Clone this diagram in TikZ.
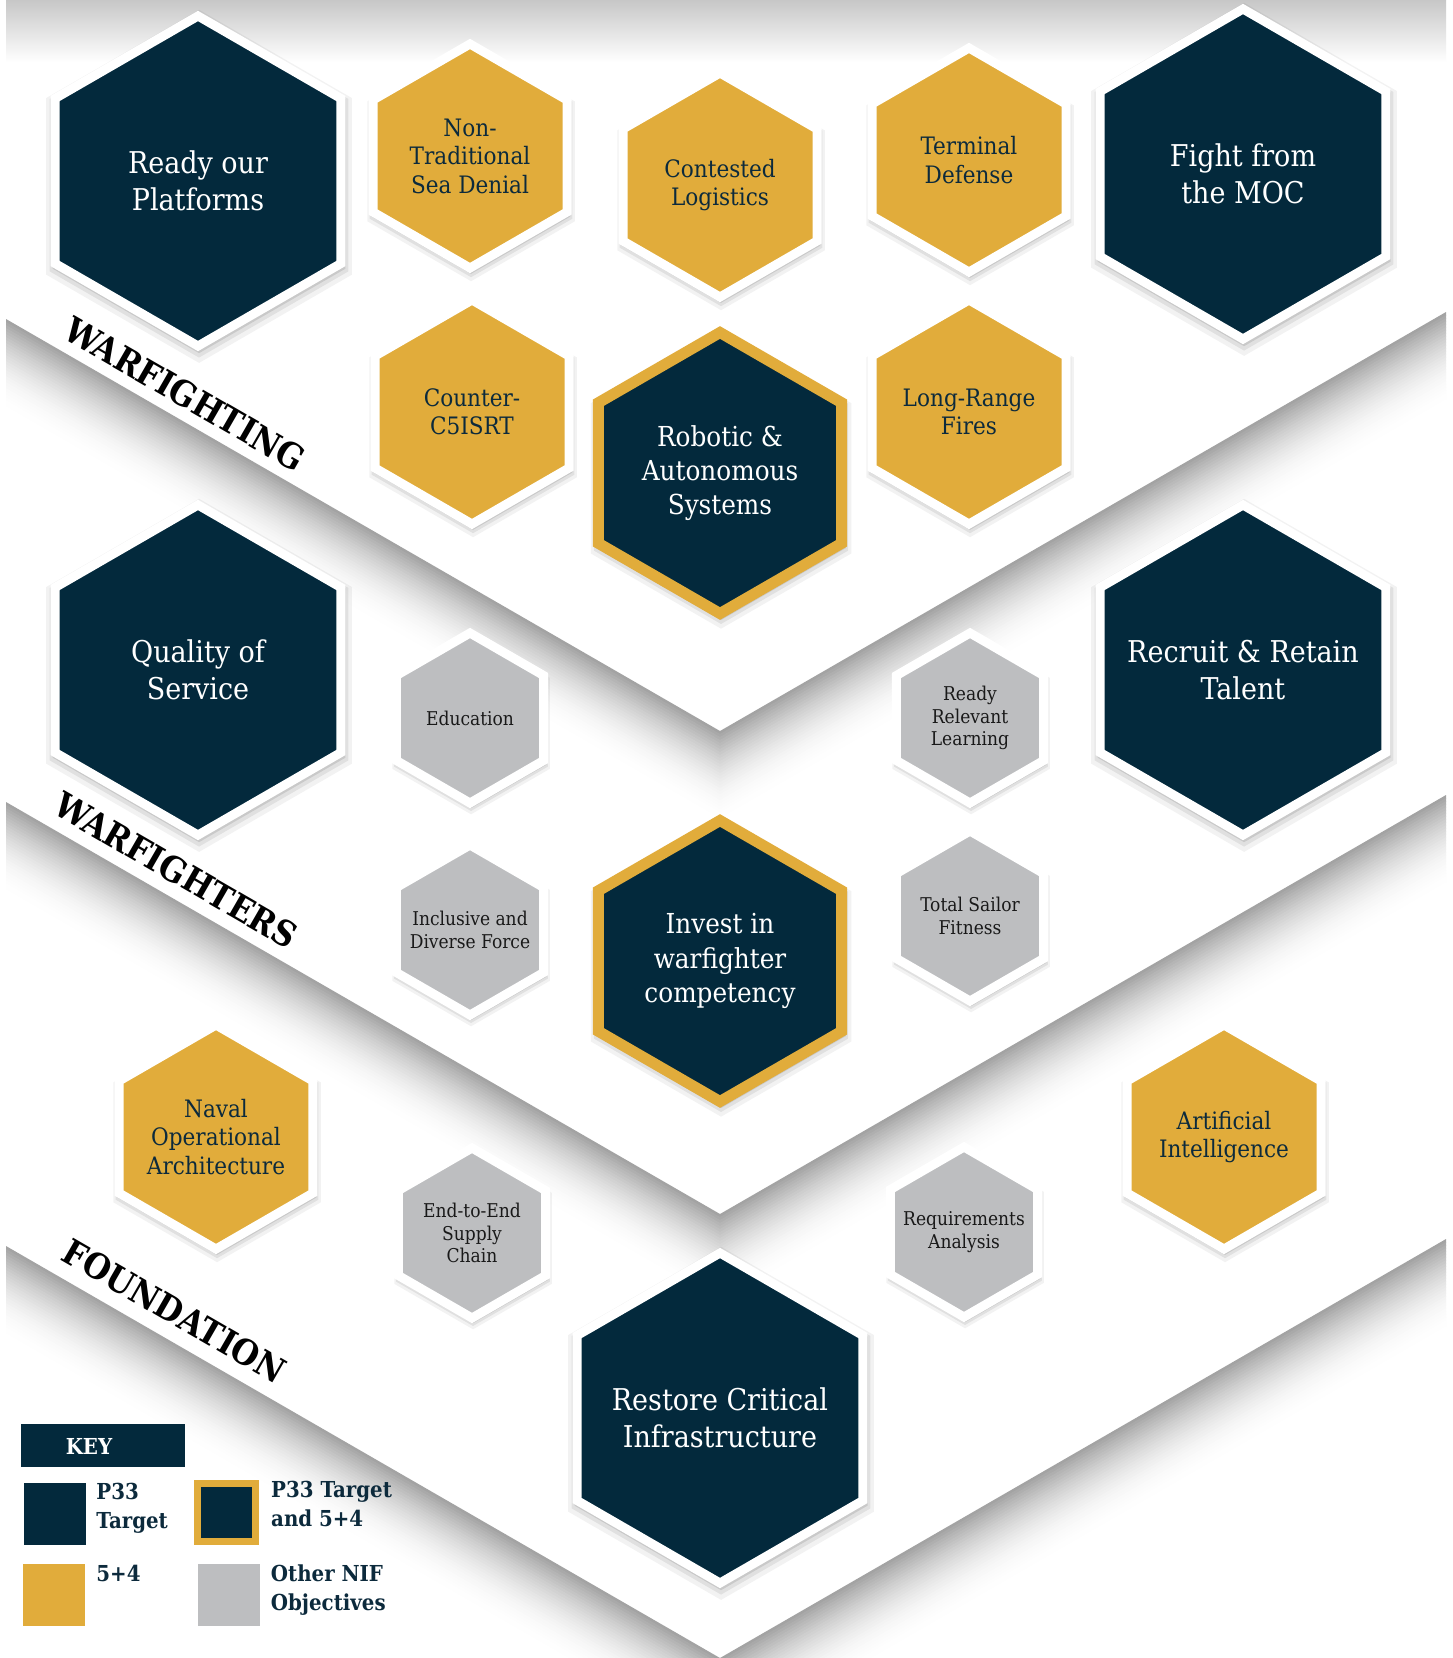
\documentclass[tikz,border=0pt]{standalone}
\usepackage{fontspec}
\newfontfamily\slabfont{DejaVu Serif Condensed}
\usepackage{tikz}
\usetikzlibrary{
    positioning,
    shadows,
    shapes.geometric
}
\definecolor{navy}{HTML}{03293C}
\definecolor{gold}{HTML}{E1AC3B}
\definecolor{hexgray}{HTML}{BDBEC0}
\definecolor{inknavy}{HTML}{0C2A3C}
% hexagon with its text on top: style, name, position, text
\newcommand{\hexagon}[4]{%
    \node[#1] (#2) at #3 {};
    \node[#1 text] (#2-text) at (#2) {#4};
}
\tikzset{
    every picture/.style = {
        x = 1pt,
        y = -1pt
    },
    hex shadow/.style = {
        general shadow = {fill = black, opacity = .05, shadow xshift = 1pt, shadow yshift = -5pt, shadow scale = 1.07},
        general shadow = {fill = black, opacity = .07, shadow xshift = 1pt, shadow yshift = -4pt, shadow scale = 1.045},
        general shadow = {fill = black, opacity = .10, shadow xshift = 1pt, shadow yshift = -3pt, shadow scale = 1.025}
    },
    hex/.style = {
        regular polygon,
        regular polygon sides = 6,
        shape border rotate = 30,
        inner sep = 0pt,
        outer sep = 0pt,
        line join = miter,
        draw = white,
        line width = 9pt,
        hex shadow
    },
    hex text/.style = {
        inner sep = 0pt,
        align = center
    },
    target/.style = {hex, minimum size = 330pt, fill = navy},
    target text/.style = {hex text, text = white, font = {\slabfont\fontsize{30}{36.5}\selectfont}},
    both/.style = {hex, minimum size = 281pt, fill = navy, draw = gold, line width = 11pt},
    both text/.style = {hex text, text = white, font = {\slabfont\fontsize{27.5}{34.4}\selectfont}},
    fivefour/.style = {hex, minimum size = 224pt, fill = gold},
    fivefour text/.style = {hex text, text = inknavy, font = {\slabfont\fontsize{24}{28.5}\selectfont}},
    objective/.style = {hex, minimum size = 170pt, fill = hexgray},
    objective text/.style = {hex text, text = black!90, font = {\slabfont\fontsize{19}{22.7}\selectfont}},
    pillar/.style = {
        rotate = -30,
        inner sep = 0pt,
        font = {\slabfont\bfseries\fontsize{35}{40}\selectfont}
    },
    swatch/.style = {
        minimum size = 62pt,
        inner sep = 0pt
    },
    key text/.style = {
        inner sep = 0pt,
        align = left,
        text = inknavy,
        font = {\slabfont\bfseries\fontsize{22}{29}\selectfont}
    }
}

\begin{document}
\begin{tikzpicture}
    \useasboundingbox (0,0) rectangle (1452,1658);
    \clip (0,0) rectangle (1452,1658);
    \fill[white] (0,0) rectangle (1452,1658);

    % shading of the bands
    \shade[top color = black!22, bottom color = white] (6,0) rectangle (1446,62);
    \foreach \v in {731, 1214, 1658} {
        \foreach \i in {0,...,29} {
            \pgfmathsetmacro\shd{36*(1-\i/30)^2}
            \fill[black!\shd] (6,\v-412+3*\i) -- (720,\v+3*\i) -- (1446,\v-419+3*\i)
                -- (1446,\v-415.4+3*\i) -- (720,\v+3.6+3*\i) -- (6,\v-408.4+3*\i) -- cycle;
        }
    }

    % warfighting
    \hexagon{target}{platforms}{(198,181)}{Ready our\\Platforms}
    \hexagon{fivefour}{seadenial}{(470,156)}{Non-\\Traditional\\Sea Denial}
    \hexagon{fivefour}{logistics}{(720,185)}{Contested\\Logistics}
    \hexagon{fivefour}{terminal}{(969,160)}{Terminal\\Defense}
    \hexagon{target}{moc}{(1243,174)}{Fight from\\the MOC}
    \hexagon{fivefour}{c5isrt}{(472,412)}{Counter-\\C5ISRT}
    \hexagon{both}{robotic}{(720,473)}{Robotic \&\\Autonomous\\Systems}
    \hexagon{fivefour}{fires}{(969,412)}{Long-Range\\Fires}

    % warfighters
    \hexagon{target}{quality}{(198,670)}{Quality of\\Service}
    \hexagon{objective}{education}{(470,718)}{Education}
    \hexagon{objective}{learning}{(970,718)}{Ready\\Relevant\\Learning}
    \hexagon{target}{talent}{(1243,670)}{Recruit \& Retain\\Talent}
    \hexagon{objective}{inclusive}{(470,930)}{Inclusive and\\Diverse Force}
    \hexagon{both}{competency}{(720,961)}{Invest in\\warfighter\\competency}
    \hexagon{objective}{fitness}{(970,916)}{Total Sailor\\Fitness}

    % foundation
    \hexagon{fivefour}{architecture}{(216,1137)}{Naval\\Operational\\Architecture}
    \hexagon{objective}{supply}{(472,1233)}{End-to-End\\Supply\\Chain}
    \hexagon{objective}{requirements}{(964,1232)}{Requirements\\Analysis}
    \hexagon{fivefour}{ai}{(1224,1137)}{Artificial\\Intelligence}
    \hexagon{target}{infrastructure}{(720,1418)}{Restore Critical\\Infrastructure}

    \node[pillar] (warfighting) at (185,394)   {WARFIGHTING};
    \node[pillar] (warfighters) at (176,870)   {WARFIGHTERS};
    \node[pillar] (foundation)  at (174.5,1311) {FOUNDATION};

    % key
    \node[fill = navy, minimum width = 164pt, minimum height = 43pt, inner sep = 0pt] (keyhead) at (103,1445.5) {};
    \node[key text, text = white] (keylabel) at (89,1446) {KEY};
    \node[swatch, fill = navy] (p33) at (55,1513.5) {};
    \node[swatch, fill = navy, draw = gold, line width = 7pt, minimum size = 58pt] (p33both) at (226.5,1512) {};
    \node[swatch, fill = gold] (plus) at (54,1595) {};
    \node[swatch, fill = hexgray] (nif) at (228.5,1595) {};
    \node[key text, below right = 1pt and 10pt of p33.north east]     (p33text)  {P33\\Target};
    \node[key text, below right = 1pt and 12pt of p33both.north east] (bothtext) {P33 Target\\and 5+4};
    \node[key text, below right = 1pt and 11pt of plus.north east]    (plustext) {5+4};
    \node[key text, below right = 1pt and 11pt of nif.north east]     (niftext)  {Other NIF\\Objectives};
\end{tikzpicture}
\end{document}
